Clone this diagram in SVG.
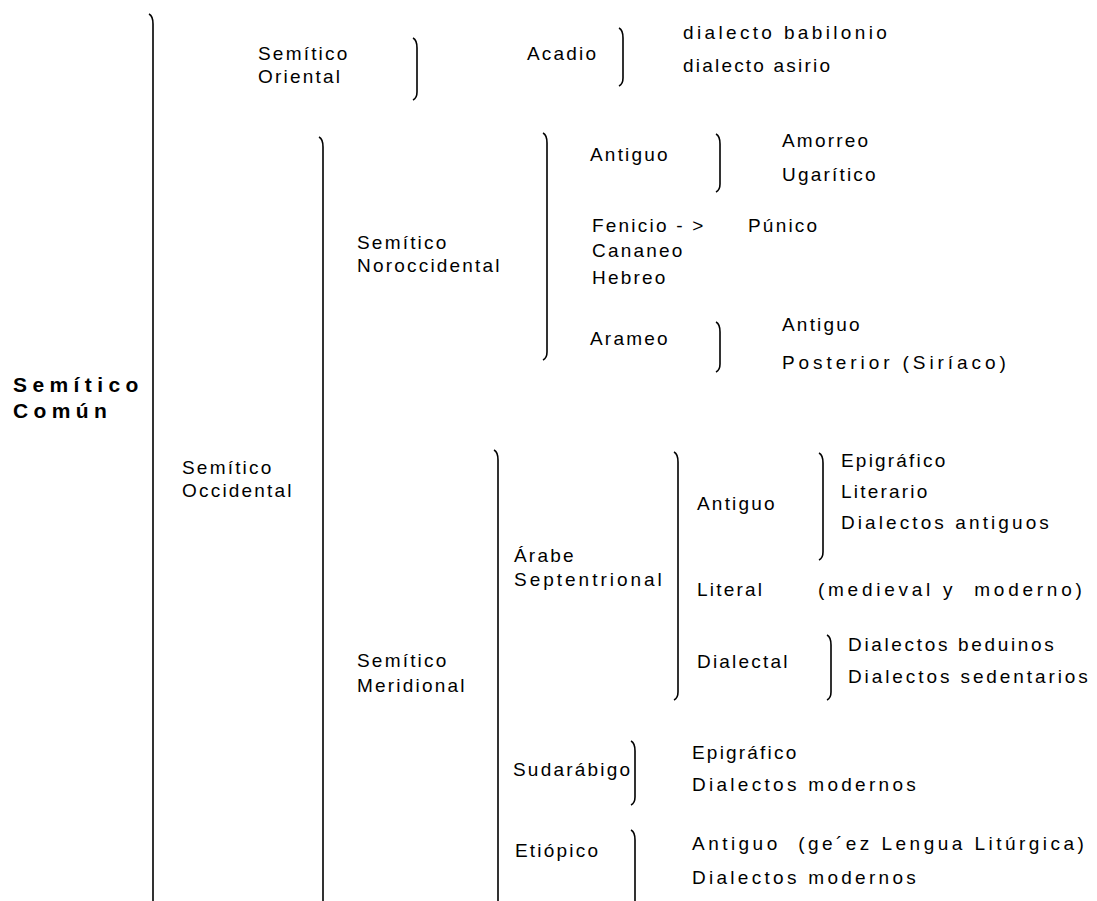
<svg xmlns="http://www.w3.org/2000/svg" width="1097" height="901" viewBox="0 0 1097 901">
<style>
text{font-family:"Liberation Sans",Arial,sans-serif;font-size:19px;letter-spacing:2.2px;fill:#000;white-space:pre}
.b{font-weight:bold;font-size:21px;letter-spacing:5.4px}
.br{fill:none;stroke:#000;stroke-width:1.6}
</style>
<rect width="1097" height="901" fill="#fff"/>
<g id="connectors">
<path class="br" d="M149 14 Q153 16 153 24 V901"/>
<path class="br" d="M413 38 Q417 40 417 48 V92 Q417 98 413 100"/>
<path class="br" d="M619 28 Q623 30 623 38 V78 Q623 84 619 86"/>
<path class="br" d="M319 137 Q323 139 323 147 V901"/>
<path class="br" d="M543 133 Q547 135 547 143 V352 Q547 358 543 360"/>
<path class="br" d="M716 134 Q720 136 720 144 V184 Q720 190 716 192"/>
<path class="br" d="M716 322 Q720 324 720 332 V364 Q720 370 716 372"/>
<path class="br" d="M494 450 Q498 452 498 460 V901"/>
<path class="br" d="M674 452 Q678 454 678 462 V692 Q678 698 674 700"/>
<path class="br" d="M819 453 Q823 455 823 463 V552 Q823 558 819 560"/>
<path class="br" d="M827 635 Q831 637 831 645 V692 Q831 698 827 700"/>
<path class="br" d="M631 741 Q635 743 635 751 V797 Q635 803 631 805"/>
<path class="br" d="M631 830 Q635 832 635 840 V901"/>
</g>
<g id="semitico-comun"><text class="b" x="13" y="392">Semítico</text><text class="b" x="13" y="418">Común</text></g>
<g id="semitico-oriental"><text x="258" y="60">Semítico</text><text x="258" y="83">Oriental</text></g>
<g id="acadio"><text x="527" y="60">Acadio</text></g>
<g id="acadio-hijos"><text x="683" y="39" textLength="206" lengthAdjust="spacing">dialecto babilonio</text><text x="683" y="72">dialecto asirio</text></g>
<g id="semitico-occidental"><text x="182" y="474">Semítico</text><text x="182" y="497">Occidental</text></g>
<g id="semitico-noroccidental"><text x="357" y="249">Semítico</text><text x="357" y="272">Noroccidental</text></g>
<g id="nw-antiguo"><text x="590" y="161">Antiguo</text></g>
<g id="nw-antiguo-hijos"><text x="782" y="147">Amorreo</text><text x="782" y="181">Ugarítico</text></g>
<g id="fenicio"><text x="592" y="232">Fenicio - &gt;</text><text x="748" y="232">Púnico</text><text x="592" y="257">Cananeo</text><text x="592" y="284">Hebreo</text></g>
<g id="arameo"><text x="590" y="345">Arameo</text></g>
<g id="arameo-hijos"><text x="782" y="331">Antiguo</text><text x="782" y="369" textLength="226" lengthAdjust="spacing">Posterior (Siríaco)</text></g>
<g id="semitico-meridional"><text x="357" y="667">Semítico</text><text x="357" y="692">Meridional</text></g>
<g id="arabe-sept"><text x="514" y="562">Árabe</text><text x="514" y="586" textLength="150" lengthAdjust="spacing">Septentrional</text></g>
<g id="ar-antiguo"><text x="697" y="510">Antiguo</text></g>
<g id="ar-antiguo-hijos"><text x="841" y="467">Epigráfico</text><text x="841" y="498">Literario</text><text x="841" y="529" textLength="210" lengthAdjust="spacing">Dialectos antiguos</text></g>
<g id="literal"><text x="697" y="596">Literal</text><text x="818" y="596" textLength="266" lengthAdjust="spacing">(medieval y  moderno)</text></g>
<g id="dialectal"><text x="697" y="668">Dialectal</text></g>
<g id="dialectal-hijos"><text x="848" y="651" textLength="208" lengthAdjust="spacing">Dialectos beduinos</text><text x="848" y="683" textLength="242" lengthAdjust="spacing">Dialectos sedentarios</text></g>
<g id="sudarabigo"><text x="513" y="776">Sudarábigo</text></g>
<g id="sudarabigo-hijos"><text x="692" y="759">Epigráfico</text><text x="692" y="791" textLength="226" lengthAdjust="spacing">Dialectos modernos</text></g>
<g id="etiopico"><text x="515" y="857">Etiópico</text></g>
<g id="etiopico-hijos"><text x="692" y="850" textLength="394" lengthAdjust="spacing">Antiguo  (ge´ez Lengua Litúrgica)</text><text x="692" y="884" textLength="226" lengthAdjust="spacing">Dialectos modernos</text></g>
</svg>
